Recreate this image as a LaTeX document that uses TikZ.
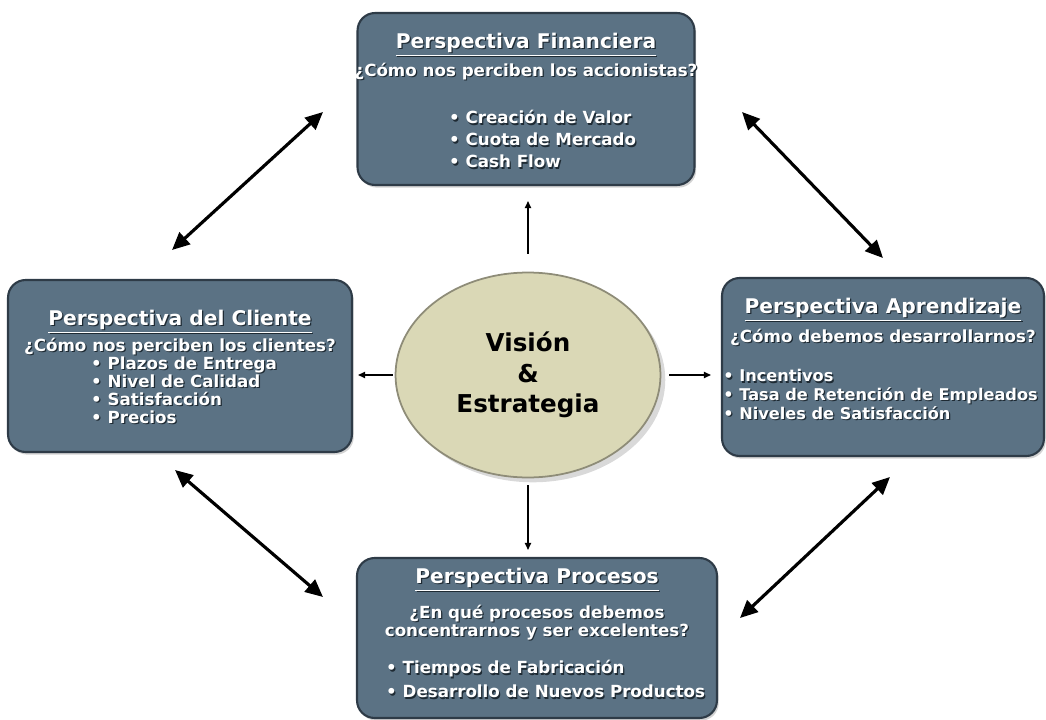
\documentclass[tikz,border=0pt]{standalone}
\usepackage{fontspec}
\setmainfont{DejaVu Sans}
\usetikzlibrary{arrows.meta,positioning,shadows,shapes.geometric}

\definecolor{boxblue}{HTML}{5B7284}
\definecolor{boxedge}{HTML}{2E3B47}
\definecolor{txtshadow}{HTML}{1E2A33}
\definecolor{visfill}{HTML}{DAD8B6}
\definecolor{visedge}{HTML}{8E8C78}

% white text with a dark drop shadow
\newcommand{\shd}[1]{\leavevmode\rlap{\kern0.7pt\raisebox{-0.7pt}{\color{txtshadow}#1}}{\color{white}#1}}

\begin{document}
\begin{tikzpicture}[
    x=0.02cm, y=-0.02cm,
    persp/.style={draw=boxedge, line width=1.2pt, fill=boxblue, rounded corners=10pt,
      drop shadow={opacity=0.35, shadow xshift=1pt, shadow yshift=-1.5pt}},
    ptitle/.style={font=\bfseries\fontsize{11.5}{13}\selectfont},
    pquest/.style={font=\bfseries\fontsize{9.5}{10.5}\selectfont, align=center},
    plist/.style={font=\bfseries\fontsize{9.5}{12.5}\selectfont, align=left, anchor=west},
    link/.style={{Triangle[length=10pt,width=9pt]}-{Triangle[length=10pt,width=9pt]}, line width=1.8pt},
    feed/.style={-{Triangle[length=4pt,width=3.5pt]}, line width=0.8pt}
  ]
  \useasboundingbox (0,0) rectangle (1046,720);

  % Center
  \node[ellipse, draw=visedge, fill=visfill, line width=1pt, minimum width=5.3cm, minimum height=4.1cm,
    drop shadow={opacity=0.3}, align=center, font=\bfseries\fontsize{14}{17.5}\selectfont] (vis) at (528,375)
    {Visión\\\&\\Estrategia};

  % Perspectives
  \node[persp, minimum width=6.74cm, minimum height=3.44cm] (fin) at (526,99) {};
  \node[persp, minimum width=6.88cm, minimum height=3.44cm] (cli) at (180,366) {};
  \node[persp, minimum width=6.44cm, minimum height=3.56cm] (apr) at (883,367) {};
  \node[persp, minimum width=7.2cm, minimum height=3.2cm] (pro) at (537,638) {};

  % Financiera
  \node[ptitle] (fintit) at (526,45) {\shd{\underline{Perspectiva Financiera}}};
  \node[pquest] (finq) at (526,72) {\shd{¿Cómo nos perciben los accionistas?}};
  \node[plist] (finl) at (443,140) {\shd{• Creación de Valor}\\\shd{• Cuota de Mercado}\\\shd{• Cash Flow}};

  % Cliente
  \node[ptitle] (clitit) at (180,322) {\shd{\underline{Perspectiva del Cliente}}};
  \node[pquest] (cliq) at (180,347) {\shd{¿Cómo nos perciben los clientes?}};
  \node[plist, font=\bfseries\fontsize{9.5}{10.3}\selectfont] (clil) at (85,391)
    {\shd{• Plazos de Entrega}\\\shd{• Nivel de Calidad}\\\shd{• Satisfacción}\\\shd{• Precios}};

  % Aprendizaje
  \node[ptitle] (aprtit) at (883,310) {\shd{\underline{Perspectiva Aprendizaje}}};
  \node[pquest] (aprq) at (883,338) {\shd{¿Cómo debemos desarrollarnos?}};
  \node[plist, font=\bfseries\fontsize{9.2}{10.6}\selectfont, inner xsep=0pt] (aprl) at (723,395)
    {\shd{• Incentivos}\\\shd{• Tasa de Retención de Empleados}\\\shd{• Niveles de Satisfacción}};

  % Procesos
  \node[ptitle] (protit) at (537,580) {\shd{\underline{Perspectiva Procesos}}};
  \node[pquest] (proq) at (537,623) {\shd{¿En qué procesos debemos}\\\shd{concentrarnos y ser excelentes?}};
  \node[plist, font=\bfseries\fontsize{9.5}{13.6}\selectfont] (prol) at (380,680)
    {\shd{• Tiempos de Fabricación}\\\shd{• Desarrollo de Nuevos Productos}};

  % Vision feeds each perspective
  \draw[feed, shorten <=0.36cm, shorten >=0.3cm] (vis.north) -- (vis.north |- fin.south);
  \draw[feed, shorten <=0.04cm, shorten >=0.1cm] (vis.west) -- (vis.west -| cli.east);
  \draw[feed, shorten <=0.16cm, shorten >=0.2cm] (vis.east) -- (vis.east -| apr.west);
  \draw[feed, shorten <=0.14cm, shorten >=0.14cm] (vis.south) -- (vis.south |- pro.north);

  % Links between perspectives
  \coordinate (fc1) at (172,250);
  \coordinate (fc2) at (323,112);
  \coordinate (fa1) at (742,112);
  \coordinate (fa2) at (883,258);
  \coordinate (pa1) at (740,618);
  \coordinate (pa2) at (890,477);
  \coordinate (pc1) at (175,470);
  \coordinate (pc2) at (323,597);
  \draw[link] (fc1) -- (fc2);
  \draw[link] (fa1) -- (fa2);
  \draw[link] (pa1) -- (pa2);
  \draw[link] (pc1) -- (pc2);
\end{tikzpicture}
\end{document}
